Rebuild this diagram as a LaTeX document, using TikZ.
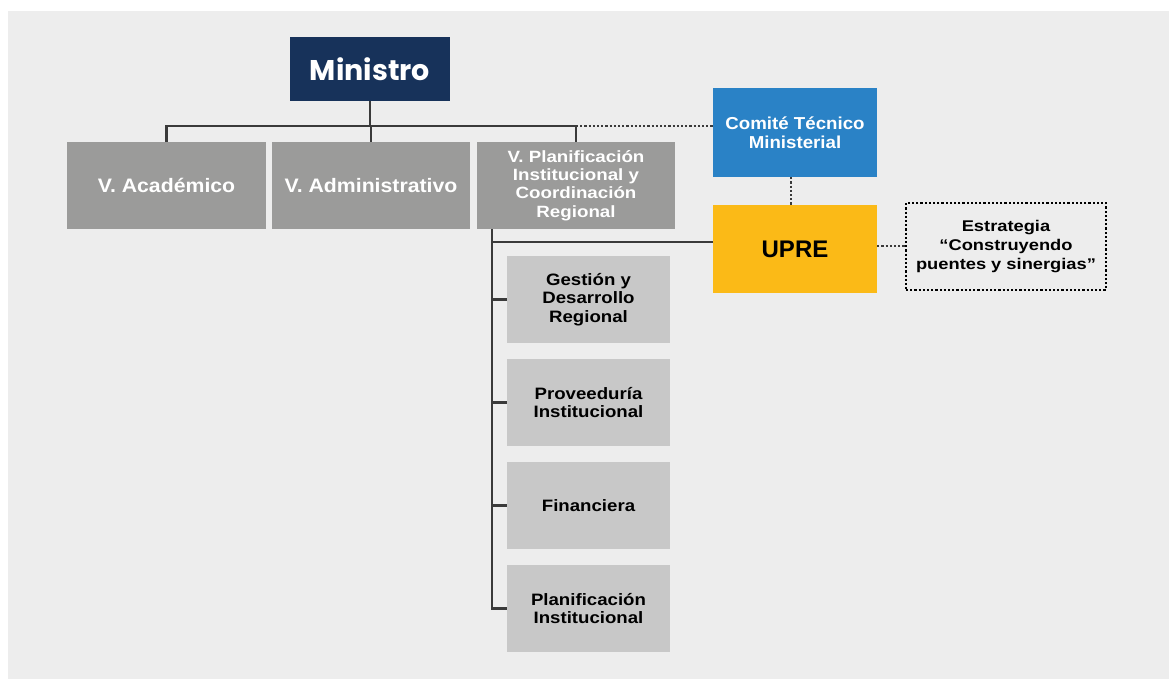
\documentclass[tikz,border=0pt]{standalone}
\usepackage{fontspec}
\setmainfont{Liberation Sans}
\newfontfamily\minfont{Poppins}
\newfontfamily\fva{Liberation Sans}[FakeStretch=1.09]
\newfontfamily\fvp{Liberation Sans}[FakeStretch=1.15]
\newfontfamily\fct{Liberation Sans}[FakeStretch=1.08]
\newfontfamily\fsb{Liberation Sans}[FakeStretch=1.13]
\newfontfamily\fes{Liberation Sans}[FakeStretch=1.18]
\definecolor{bgc}{HTML}{EDEDED}
\definecolor{navy}{HTML}{17325A}
\definecolor{vgray}{HTML}{9B9B9A}
\definecolor{lgray}{HTML}{C8C8C8}
\definecolor{cblue}{HTML}{2A82C6}
\definecolor{uyel}{HTML}{FBBA17}
\definecolor{lnc}{HTML}{3A3A3A}
\tikzset{
  boxbase/.style={inner sep=0pt, align=center, font=\bfseries},
  vbox/.style={boxbase, fill=vgray, text=white, minimum width=198, minimum height=87},
  subbox/.style={boxbase, fill=lgray, text=black, minimum width=163, minimum height=87,
    font=\fsb\bfseries\fontsize{16.5}{18.7}\selectfont},
  conn/.style={draw=lnc, line width=2.4pt},
  dotc/.style={draw=lnc, line width=2.6pt, dash pattern=on 2.2pt off 2pt},
}
\begin{document}
\begin{tikzpicture}[x=1pt,y=-1pt]
\useasboundingbox (0,0) rectangle (1169,679);
\fill[bgc] (8,11) rectangle (1169,679);
% nodes
\node[boxbase, fill=navy, text=white, minimum width=160, minimum height=64,
  font=\minfont\bfseries\fontsize{28.5}{32}\selectfont] (M) at (370,69) {Ministro};
\node[vbox, minimum width=199, font=\fva\bfseries\fontsize{19.5}{22}\selectfont] (VA) at (166.5,185.5) {V. Académico};
\node[vbox, font=\fva\bfseries\fontsize{19.5}{22}\selectfont] (VAd) at (371,185.5) {V. Administrativo};
\node[vbox, font=\fvp\bfseries\fontsize{16.3}{18.4}\selectfont] (VP) at (576,185.5) {V. Planificación\\Institucional y\\Coordinación\\Regional};
\node[boxbase, fill=cblue, text=white, minimum width=164, minimum height=89,
  font=\fct\bfseries\fontsize{17.3}{18.5}\selectfont] (CT) at (795,132.5) {Comité Técnico\\Ministerial};
\node[boxbase, fill=uyel, text=black, minimum width=164, minimum height=88,
  font=\bfseries\fontsize{24}{26}\selectfont] (U) at (795,249) {UPRE};
\node[boxbase, draw=black, line width=2.4pt, dash pattern=on 2.2pt off 2pt, text=black,
  minimum width=200, minimum height=87,
  font=\fes\bfseries\fontsize{15.5}{18.8}\selectfont] (E) at (1006,246.5) {Estrategia\\“Construyendo\\puentes y sinergias”};
\node[subbox] (S1) at (588.5,299.5) {Gestión y\\Desarrollo\\Regional};
\node[subbox] (S2) at (588.5,402.5) {Proveeduría\\Institucional};
\node[subbox] (S3) at (588.5,505.5) {Financiera};
\node[subbox] (S4) at (588.5,608.5) {Planificación\\Institucional};
% coordinates
\coordinate (bus) at (0,126);
\coordinate (spine) at (492,0);
\coordinate (uline) at (0,242);
% connectors
\draw[conn] (M.south) -- (M.south |- bus);
\draw[conn] (VA.north) -- (VA.north |- bus) -- (VP.north |- bus) -- (VP.north);
\draw[conn] (VAd.north) -- (VAd.north |- bus);
\draw[dotc] (VP.north |- bus) -- (CT.west |- bus);
\draw[dotc] ([xshift=-4]CT.south) -- ([xshift=-4]U.north);
\draw[dotc] (U.east |- 0,246) -- (E.west |- 0,246);
\draw[conn] (spine |- VP.south) -- (spine |- S4.west) -- (S4.west);
\draw[conn] (spine |- uline) -- (U.west |- uline);
\draw[conn] (spine |- S1.west) -- (S1.west);
\draw[conn] (spine |- S2.west) -- (S2.west);
\draw[conn] (spine |- S3.west) -- (S3.west);
\end{tikzpicture}
\end{document}
